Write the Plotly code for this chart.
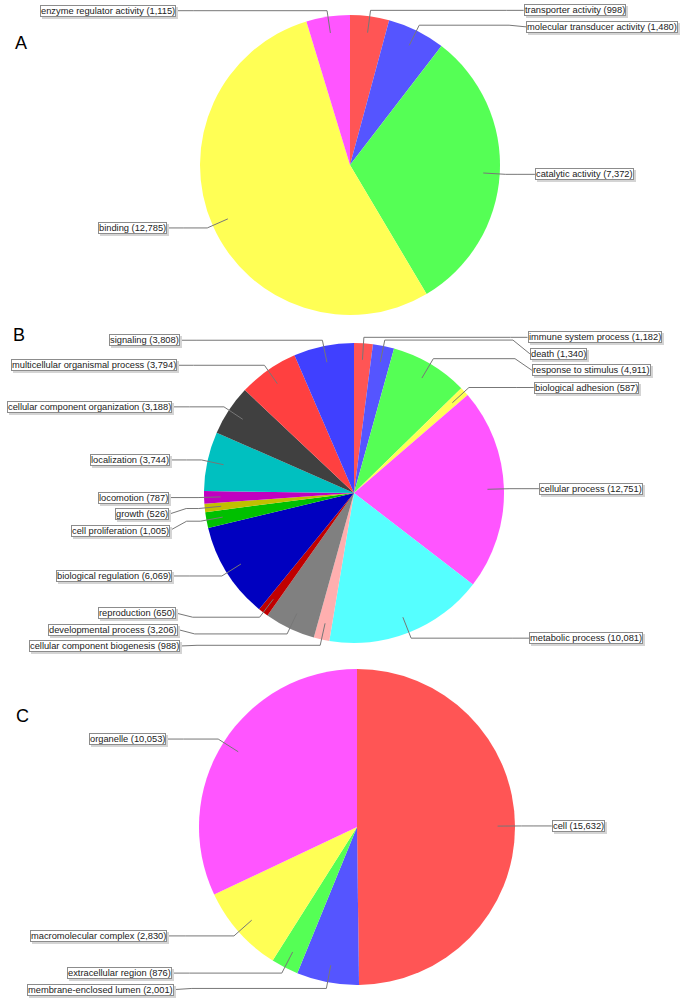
import math
import plotly.graph_objects as go

W, H = 686, 1004

# ---------------- data ----------------
mf_labels = ["transporter activity", "molecular transducer activity", "catalytic activity",
             "binding", "enzyme regulator activity"]
mf_values = [998, 1480, 7372, 12785, 1115]

bp_labels = ["immune system process", "death", "response to stimulus", "biological adhesion",
             "cellular process", "metabolic process", "cellular component biogenesis",
             "developmental process", "reproduction", "biological regulation",
             "cell proliferation", "growth", "locomotion", "localization",
             "cellular component organization", "multicellular organismal process", "signaling"]
bp_values = [1182, 1340, 4911, 587, 12751, 10081, 988, 3206, 650, 6069,
             1005, 526, 787, 3744, 3188, 3794, 3808]

cc_labels = ["cell", "membrane-enclosed lumen", "extracellular region",
             "macromolecular complex", "organelle"]
cc_values = [15632, 2001, 876, 2830, 10053]

panel_letters = ["A", "B", "C"]

# ---------------- style ----------------
palette = ["#FF5555", "#5555FF", "#55FF55", "#FFFF55", "#FF55FF", "#55FFFF",
           "#FFAFAF", "#808080", "#C00000", "#0000C0", "#00C000", "#C0C000",
           "#C000C0", "#00C0C0", "#404040", "#FF4040", "#4040FF"]

# pixel layout of each panel: centre, radius, label band top/bottom, letter position
panels = [
    dict(cx=350, cy=165, r=150, lo=5, hi=330, lx=21, ly=43),
    dict(cx=354, cy=493, r=150, lo=330, hi=646, lx=19, ly=335),
    dict(cx=357, cy=827, r=158, lo=665, hi=997, lx=22, ly=716),
]
datasets = [(mf_labels, mf_values), (bp_labels, bp_values), (cc_labels, cc_values)]

FONT = "Liberation Sans, Arial, sans-serif"
LINE_COL = "#777777"
GAP_H = 16.5


def px(x):
    return x / W


def py(y):
    return 1 - y / H


def distribute(ys, lo, hi, h):
    order = sorted(range(len(ys)), key=lambda i: ys[i])
    vals = [ys[i] for i in order]
    if vals and vals[0] < lo:
        vals[0] = lo
    for k in range(1, len(vals)):
        if vals[k] < vals[k - 1] + h:
            vals[k] = vals[k - 1] + h
    if vals and vals[-1] > hi:
        vals[-1] = hi
        for k in range(len(vals) - 2, -1, -1):
            if vals[k] > vals[k + 1] - h:
                vals[k] = vals[k + 1] - h
    out = [0.0] * len(ys)
    for k, i in enumerate(order):
        out[i] = vals[k]
    return out


fig = go.Figure()
shapes = []
annotations = []

for p, (labs, vals), letter in zip(panels, datasets, panel_letters):
    cx, cy, r = p["cx"], p["cy"], p["r"]
    fig.add_trace(go.Pie(
        labels=labs, values=vals, sort=False, direction="clockwise", rotation=0,
        textinfo="none", hoverinfo="label+value",
        marker=dict(colors=palette[:len(vals)], line=dict(width=0)),
        domain=dict(x=[px(cx - r), px(cx + r)], y=[py(cy + r), py(cy - r)]),
        showlegend=False,
    ))

    total = float(sum(vals))
    recs = []
    cum = 0.0
    for lab, v in zip(labs, vals):
        mid = (cum + v / 2.0) / total * 2 * math.pi
        cum += v
        dx, dy = math.sin(mid), -math.cos(mid)
        recs.append(dict(
            text=f"{lab} ({v:,})",
            side="right" if dx >= 0 else "left",
            link=(cx + 0.89 * r * dx, cy + 0.89 * r * dy),
            elbow=(cx + 1.04 * r * dx, cy + 1.04 * r * dy),
        ))

    for side in ("right", "left"):
        group = [rc for rc in recs if rc["side"] == side]
        ys = distribute([rc["elbow"][1] for rc in group], p["lo"], p["hi"], GAP_H)
        sgn = 1 if side == "right" else -1
        for rc, y in zip(group, ys):
            dyl = (y - cy) / (3.0 * r)
            tx = cx + sgn * 1.233 * r * math.sqrt(max(0.0, 1 - dyl * dyl))
            ax = tx - sgn * 0.113 * r
            lx, ly = rc["link"]
            ex, ey = rc["elbow"]
            path = (f"M {px(lx)},{py(ly)} L {px(ex)},{py(ey)} "
                    f"L {px(ax)},{py(ey)} L {px(tx)},{py(y)}")
            shapes.append(dict(type="path", path=path, xref="paper", yref="paper",
                               line=dict(color=LINE_COL, width=1)))
            anchor = "left" if side == "right" else "right"
            # drop shadow
            annotations.append(dict(
                x=px(tx), y=py(y), xref="paper", yref="paper", showarrow=False,
                xanchor=anchor, yanchor="middle", text=rc["text"],
                font=dict(family=FONT, size=9.3, color="rgba(0,0,0,0)"),
                bgcolor="#d4d4d4", bordercolor="#d4d4d4", borderwidth=1, borderpad=0,
                xshift=2, yshift=-2))
            annotations.append(dict(
                x=px(tx), y=py(y), xref="paper", yref="paper", showarrow=False,
                xanchor=anchor, yanchor="middle", text=rc["text"],
                font=dict(family=FONT, size=9.3, color="#222222"),
                bgcolor="white", bordercolor="#8c8c8c", borderwidth=1, borderpad=0))

    annotations.append(dict(
        x=px(p["lx"]), y=py(p["ly"]), xref="paper", yref="paper", showarrow=False,
        xanchor="center", yanchor="middle", text=letter,
        font=dict(family=FONT, size=18, color="black")))

fig.update_layout(
    width=W, height=H, margin=dict(l=0, r=0, t=0, b=0),
    paper_bgcolor="white", plot_bgcolor="white",
    shapes=shapes, annotations=annotations, showlegend=False,
)

# remove the browser's default 8px body margin so the figure fills the window
fig.write_html(
    "out.html",
    config={"displayModeBar": False},
    post_script="document.body.style.margin='0px';document.body.style.overflow='hidden';",
)
